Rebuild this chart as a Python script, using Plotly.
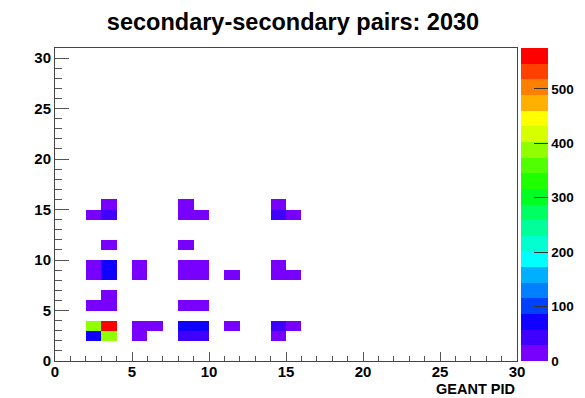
import numpy as np
import plotly.graph_objects as go

# ---- data: (x bin lower edge, y bin lower edge, count) ----
x_bins = [2, 3, 3, 8, 9, 8, 14, 15, 14,
          3, 8,
          2, 3, 5, 8, 9, 14,
          2, 3, 5, 8, 9, 11, 14, 15,
          3, 2, 3, 8, 9,
          2, 3, 5, 6, 8, 9, 11, 14, 15,
          2, 3, 5, 8, 9, 14]
y_bins = [14, 14, 15, 14, 14, 15, 14, 14, 15,
          11, 11,
          9, 9, 9, 9, 9, 9,
          8, 8, 8, 8, 8, 8, 8, 8,
          6, 5, 5, 5, 5,
          3, 3, 3, 3, 3, 3, 3, 3, 3,
          2, 2, 2, 2, 2, 2]
counts = [15, 40, 20, 15, 15, 15, 45, 20, 20,
          15, 15,
          15, 78, 15, 15, 15, 15,
          15, 78, 15, 15, 15, 15, 15, 15,
          15, 15, 15, 15, 15,
          385, 548, 15, 15, 80, 80, 15, 45, 20,
          70, 390, 15, 35, 35, 20]

x_ticks = [0, 5, 10, 15, 20, 25, 30]
y_ticks = [0, 5, 10, 15, 20, 25, 30]
z_ticks = [0, 100, 200, 300, 400, 500]

title_text = "secondary-secondary pairs: 2030"
x_title = "GEANT PID"

n_x, n_y = 30, 31
z_max = 575

band_colors = ["#7800ff", "#4000ff", "#1000ff", "#0040ff", "#0080ff",
               "#00b0ff", "#00ffff", "#00ffd0", "#00ff98", "#00ff60",
               "#00ff20", "#20ff00", "#50ff00", "#90ff00", "#d8ff00",
               "#ffff00", "#ffb000", "#ff8000", "#ff4000", "#ff0000"]

# ---- build grid ----
z = np.full((n_y, n_x), np.nan)
for xb, yb, c in zip(x_bins, y_bins, counts):
    z[yb, xb] = c

nb = len(band_colors)
colorscale = []
for i, c in enumerate(band_colors):
    colorscale.append([i / nb, c])
    colorscale.append([(i + 1) / nb, c])

font_family = "Liberation Sans, Arial, Helvetica, sans-serif"

# page body has an 8px margin, so the figure is sized to fit the window
W, H = 577, 390

fig = go.Figure(go.Heatmap(
    z=z,
    x=np.arange(n_x) + 0.5,
    y=np.arange(n_y) + 0.5,
    zmin=0, zmax=z_max,
    colorscale=colorscale,
    hoverongaps=False,
    colorbar=dict(
        x=1.008, xanchor="left", xpad=0,
        y=0, yanchor="bottom", ypad=0,
        len=1, lenmode="fraction",
        thickness=27, outlinewidth=0,
        tickvals=z_ticks,
        ticks="inside", ticklen=14, tickcolor="#333333", tickwidth=1,
        tickfont=dict(family=font_family, size=13.5, color="black", weight="bold"),
    ),
))

axis_common = dict(
    showgrid=False, zeroline=False,
    showline=True, linecolor="#444444", linewidth=1, mirror=True,
    ticks="inside", tickcolor="#555555", tickwidth=1,
    tickfont=dict(family=font_family, size=15, color="black", weight="bold"),
)

fig.update_xaxes(range=[0, 30], tickvals=x_ticks, ticklen=9, ticklabelstandoff=-3,
                 minor=dict(ticks="inside", ticklen=5, dtick=1, tickcolor="#555555"),
                 **axis_common)
fig.update_yaxes(range=[0, 31], tickvals=y_ticks, ticklen=14, ticklabelstandoff=0,
                 minor=dict(ticks="inside", ticklen=7, dtick=1, tickcolor="#555555"),
                 **axis_common)

fig.update_layout(
    width=W, height=H,
    margin=dict(l=47, r=68, t=40, b=37, autoexpand=False),
    paper_bgcolor="white", plot_bgcolor="white",
    title=dict(text=title_text, x=(293 - 8) / W, xref="container", xanchor="center",
               y=1 - 14 / H, yref="container", yanchor="middle",
               font=dict(family=font_family, size=23.5, color="black", weight="bold")),
    annotations=[dict(text=x_title, x=1, xref="paper", xanchor="right",
                      y=-0.09, yref="paper", yanchor="middle", showarrow=False,
                      font=dict(family=font_family, size=14.5, color="black", weight="bold"))],
)

fig.write_html("out.html")
